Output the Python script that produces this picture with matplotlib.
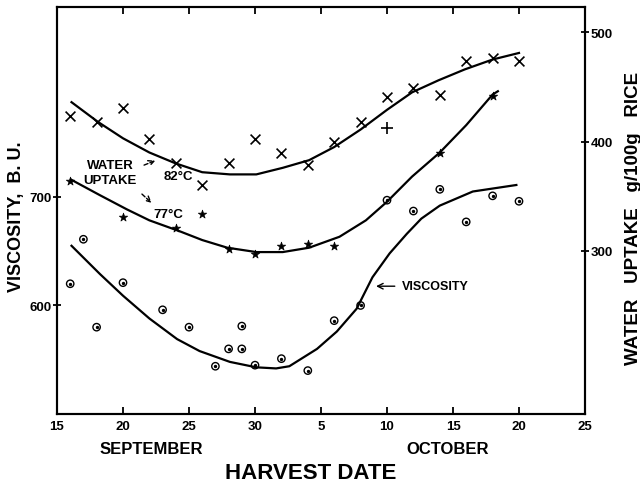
import matplotlib
matplotlib.use("Agg")
import matplotlib.pyplot as plt

plt.rcParams['font.family'] = ['Liberation Sans', 'DejaVu Sans']
plt.rcParams['font.weight'] = 'bold'

# x values are days after 15 September (Sep 30 = 15, Oct 5 = 20, ...)
x_ticks = [0, 5, 10, 15, 20, 25, 30, 35, 40]
x_labels = ['15', '20', '25', '30', '5', '10', '15', '20', '25']

# viscosity (left axis, B.U.)
visc_days = [1, 2, 3, 5, 8, 10, 12, 13, 14, 14, 15, 17, 19, 21, 23, 25, 27, 29, 31, 33, 35]
visc_vals = [620, 661, 580, 621, 596, 580, 544, 560, 560, 581, 545, 551, 540, 586, 600,
             697, 687, 707, 677, 701, 696]
visc_curve_days = [1.1, 3.25, 5.0, 7.0, 9.1, 10.8, 13.1, 15.1, 16.6, 17.6, 19.7, 21.2,
                   22.7, 23.9, 25.2, 26.5, 27.6, 29.0, 31.5, 34.8]
visc_curve_vals = [655, 629, 609, 588, 569, 558, 548, 543, 542, 544, 560, 576,
                   597, 626, 648, 666, 680, 692, 705, 711]

# water uptake at 82 C (right axis, g/100g rice)
w82_days = [1, 3, 5, 7, 9, 11, 13, 15, 17, 19, 21, 23, 25, 27, 29, 31, 33, 35]
w82_vals = [423, 418, 431, 402, 380, 360, 380, 402, 390, 379, 400, 418, 441, 449, 443,
            474, 476, 474]
w82_curve_days = [1.1, 3.1, 5.0, 7.0, 9.0, 11.0, 13.1, 15.1, 17.1, 19.1, 21.0, 23.0,
                  25.0, 26.9, 28.9, 30.9, 33.0, 35.0]
w82_curve_vals = [436, 418, 403, 390, 380, 372, 370, 370, 376, 383, 395, 411,
                  429, 445, 456, 466, 475, 481]

# water uptake at 77 C
w77_days = [1, 5, 9, 11, 13, 15, 17, 19, 21, 29, 33]
w77_vals = [364, 331, 321, 334, 302, 297, 305, 306, 305, 390, 442]
w77_curve_days = [1.1, 3.25, 5.3, 7.0, 9.3, 11.0, 12.9, 15.1, 17.1, 19.1, 21.4, 23.4,
                  25.0, 26.9, 29.0, 31.0, 33.0, 33.4]
w77_curve_vals = [365, 351, 338, 328, 318, 310, 303, 299, 299, 303, 313, 328,
                  345, 368, 390, 415, 443, 446]

plus_days = [25]
plus_vals = [412]

fig = plt.figure(figsize=(6.4, 4.89), dpi=100)
ax = fig.add_axes([57 / 640, 74 / 489, 528 / 640, 407 / 489])
ax2 = ax.twinx()

ax.plot(visc_curve_days, visc_curve_vals, color='black', lw=1.6, zorder=2)
ax.scatter(visc_days, visc_vals, s=28, facecolors='none', edgecolors='black', linewidths=1.0, zorder=3)
ax.scatter(visc_days, visc_vals, s=2, color='black', zorder=3)

ax2.plot(w82_curve_days, w82_curve_vals, color='black', lw=1.6, zorder=2)
ax2.scatter(w82_days, w82_vals, s=50, marker='x', color='black', linewidths=1.2, zorder=3)
ax2.plot(w77_curve_days, w77_curve_vals, color='black', lw=1.6, zorder=2)
ax2.scatter(w77_days, w77_vals, s=40, marker='*', color='black', linewidths=0.5, zorder=3)
ax2.scatter(plus_days, plus_vals, s=70, marker='+', color='black', linewidths=1.2, zorder=3)

ax.set_xlim(0, 40)
ax.set_ylim(500, 875)
ax2.set_ylim(151, 523)
ax.set_xticks(x_ticks)
ax.set_xticklabels(x_labels)
ax.set_yticks([600, 700])
ax2.set_yticks([300, 400, 500])

for a in (ax, ax2):
    for s in a.spines.values():
        s.set_linewidth(1.5)
ax.tick_params(axis='x', direction='in', length=5, width=1.3, top=True, pad=4, labelsize=9.5)
ax.tick_params(axis='y', direction='inout', length=6, width=1.3, pad=1, labelsize=9.5)
ax2.tick_params(axis='y', direction='inout', length=6, width=1.3, pad=1, labelsize=9.5)

tr = ax.transAxes
ax.text(0.102, 0.612, 'WATER', transform=tr, ha='center', va='center', fontsize=9.5)
ax.text(0.100, 0.575, 'UPTAKE', transform=tr, ha='center', va='center', fontsize=9.5)
ax.text(0.229, 0.585, '82°C', transform=tr, ha='center', va='center', fontsize=9.5)
ax.text(0.210, 0.491, '77°C', transform=tr, ha='center', va='center', fontsize=9.5)
ax.annotate('', xy=(0.191, 0.625), xytext=(0.160, 0.609), xycoords=tr, textcoords=tr,
            arrowprops=dict(arrowstyle='->', lw=1.0, linestyle=(0, (3, 1.5)), color='black'))
ax.annotate('', xy=(0.183, 0.514), xytext=(0.157, 0.545), xycoords=tr, textcoords=tr,
            arrowprops=dict(arrowstyle='->', lw=1.0, linestyle=(0, (3, 1.5)), color='black'))
ax.annotate('', xy=(0.599, 0.314), xytext=(0.645, 0.314), xycoords=tr, textcoords=tr,
            arrowprops=dict(arrowstyle='->', lw=1.0, color='black'))
ax.text(0.653, 0.314, 'VISCOSITY', transform=tr, ha='left', va='center', fontsize=9)

fig.text(17 / 640, 1 - 217 / 489, 'VISCOSITY,  B. U.', rotation=90, ha='center', va='center', fontsize=13)
fig.text(633 / 640, 1 - 218 / 489, 'WATER   UPTAKE   g/100g   RICE', rotation=90, ha='center',
         va='center', fontsize=13.5)
fig.text(151 / 640, 1 - 450 / 489, 'SEPTEMBER', ha='center', va='center', fontsize=12)
fig.text(448 / 640, 1 - 450 / 489, 'OCTOBER', ha='center', va='center', fontsize=12)
fig.text(311 / 640, 1 - 474 / 489, 'HARVEST DATE', ha='center', va='center', fontsize=16)

fig.savefig('out.png', dpi=100)
